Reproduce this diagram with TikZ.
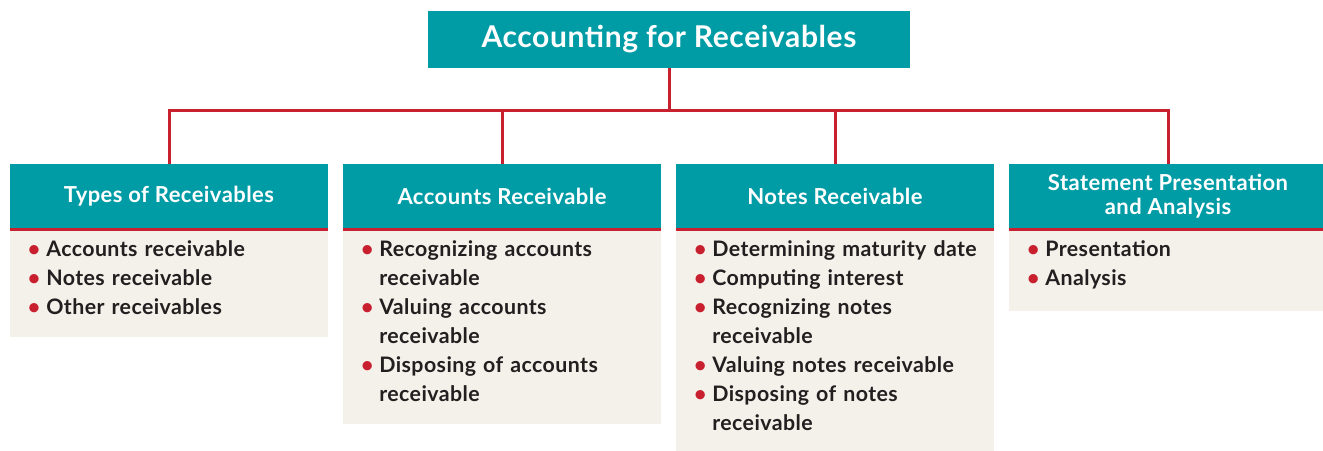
\documentclass[tikz,border=0pt]{standalone}
\usepackage{fontspec}
\setmainfont{Lato}[LetterSpace=2]
\definecolor{headteal}{HTML}{009CA6}
\definecolor{linkred}{HTML}{C8202F}
\definecolor{bodycream}{HTML}{F4F1EA}
\definecolor{inkdark}{HTML}{231F20}
\newlength\entryindent
\setlength\entryindent{11.25pt}
\newcommand\wrapline{\hfil\break}
\newcommand\entry[1]{\leftskip=8pt\hangindent=\entryindent\hangafter=1%
  \makebox[\entryindent][l]{\hspace{-2.5pt}\textcolor{linkred}{\textbullet}}#1\par}
\tikzset{
  link/.style={draw=linkred, line width=2.25pt},
  title/.style={fill=headteal, text=white, inner sep=0pt, minimum width=361.5pt,
    minimum height=42.75pt, font=\bfseries\fontsize{22.5}{26}\selectfont},
  head/.style={fill=headteal, text=white, inner sep=0pt, minimum width=238.5pt,
    minimum height=48pt, align=center, font=\bfseries\fontsize{16.5}{18}\selectfont},
  body/.style={fill=bodycream, text=inkdark, anchor=north, text width=222.5pt,
    inner xsep=8pt, inner ysep=9pt, align=left, font=\bfseries\fontsize{16}{21.75}\selectfont,
    execute at end node={\vspace{7.5pt}}}
}
\begin{document}
\begin{tikzpicture}[x=0.75pt, y=-0.75pt]
    \useasboundingbox (0,0) rectangle (1323,450);
    \node [title] (top) at (669,39.5) {Accounting for Receivables};
    % column headers
    \node [head] (hdr1) at (169,196) {Types of Receivables};
    \node [head] (hdr2) at (502,196) {Accounts Receivable};
    \node [head] (hdr3) at (835,196) {Notes Receivable};
    \node [head] (hdr4) at (1168,196) {Statement Presentation\\and Analysis};
    % bullet lists
    \node [body] (list1) at (hdr1.south) {\entry{Accounts receivable}\entry{Notes receivable}\entry{Other receivables}};
    \node [body] (list2) at (hdr2.south) {\entry{Recognizing accounts\wrapline receivable}\entry{Valuing accounts\wrapline receivable}\entry{Disposing of accounts\wrapline receivable}};
    \node [body] (list3) at (hdr3.south) {\entry{Determining maturity date}\entry{Computing interest}\entry{Recognizing notes\wrapline receivable}\entry{Valuing notes receivable}\entry{Disposing of notes\wrapline receivable}};
    \node [body] (list4) at (hdr4.south) {\entry{Presentation}\entry{Analysis}};
    \foreach \i in {1,...,4} {
        \draw [link] ([yshift=-1.1pt]hdr\i.south west) -- ([yshift=-1.1pt]hdr\i.south east);
        \draw [link] (top.south) -- ++(0,42) -| (hdr\i.north);
    }
\end{tikzpicture}
\end{document}
